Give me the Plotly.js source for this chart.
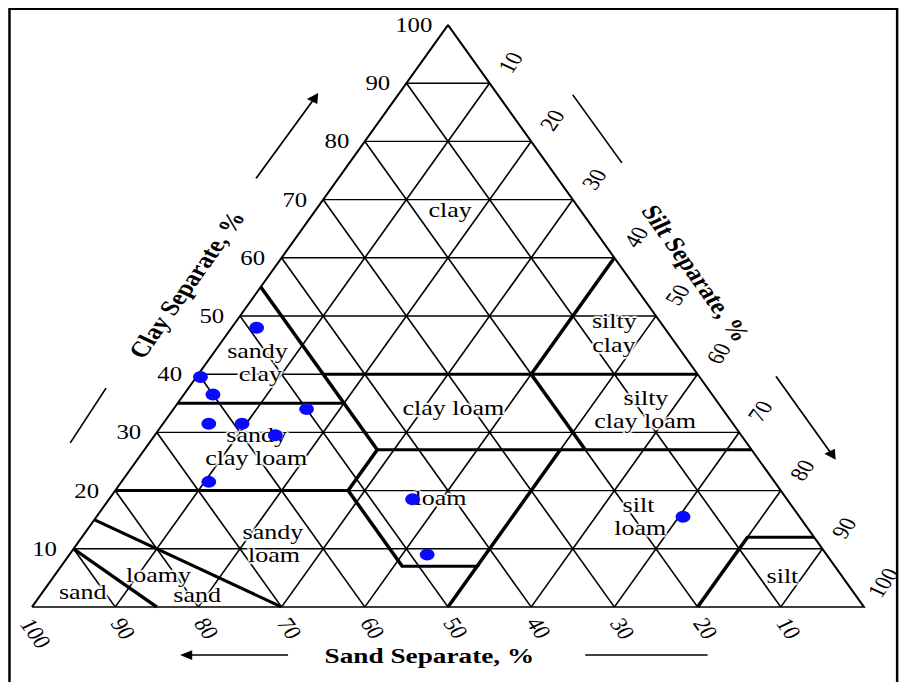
<!DOCTYPE html>
<html>
<head>
<meta charset="utf-8">
<script src="https://cdn.plot.ly/plotly-3.0.1.min.js"></script>
<style>
  html, body { margin: 0; padding: 0; background: #fff; overflow: hidden; }
  #wrap { width: 903px; height: 682px; overflow: hidden; }
  /* the triangle is laid out equilateral, then widened to the page width */
  #chart { width: 729px; height: 682px; transform: scaleX(1.238683); transform-origin: 0 0; }
</style>
</head>
<body>
<div id="wrap"><div id="chart"></div></div>
<script>
// ---- soil samples (percent by mass) ----
const sampleSand = [49, 60, 60, 50, 63, 59, 56, 68, 45, 48, 14];
const sampleSilt = [3, 0.5, 3.5, 16, 5.5, 9.5, 14.5, 10.5, 36.5, 43, 70.5];
const sampleClay = [48, 39.5, 36.5, 34, 31.5, 31.5, 29.5, 21.5, 18.5, 9, 15.5];

// ---- grid and tick values ----
const gridSteps = [10, 20, 30, 40, 50, 60, 70, 80, 90];
const clayTicks = [10, 20, 30, 40, 50, 60, 70, 80, 90, 100];
const sandTicks = [100, 90, 80, 70, 60, 50, 40, 30, 20, 10];
const siltTicks = [10, 20, 30, 40, 50, 60, 70, 80, 90, 100];

// ---- USDA texture class boundaries, as [sand, clay] vertices ----
const classBoundaries = [
  [[85, 0], [90, 10]],
  [[70, 0], [85, 15]],
  [[80, 20], [52, 20], [52, 7], [43, 7], [50, 0]],
  [[65, 35], [45, 35]],
  [[45, 55], [45, 27], [52, 20]],
  [[45, 40], [0, 40]],
  [[20, 40], [0, 60]],
  [[20, 40], [20, 27]],
  [[45, 27], [0, 27]],
  [[23, 27], [43, 7]],
  [[20, 0], [8, 12], [0, 12]]
];

// ---- class names and where they sit, as [silt, clay] ----
const classNames = ["clay", "silty", "clay", "silty", "clay loam", "sandy", "clay",
  "clay loam", "sandy", "clay loam", "loam", "silt", "loam", "sandy", "loam",
  "loamy", "sand", "sand", "silt"];
const classNameSilt = [16.3, 45.6, 47.6, 56.0, 57.9, 5.3, 7.6, 33.7, 12.4, 14.3,
  39.9, 64.3, 66.5, 22.7, 24.8, 12.6, 5.0, 19.0, 87.7];
const classNameClay = [67.9, 48.8, 44.7, 35.6, 31.6, 43.6, 39.7, 33.9, 29.2, 25.3,
  18.4, 17.2, 13.2, 12.5, 8.6, 5.2, 2.2, 1.7, 5.0];

// ternary -> plane: sand 100 at left, silt 100 at right, clay 100 on top
function toX(silt, clay) { return silt + clay / 2; }
function fromSandClay(sand, clay) { return [toX(100 - sand - clay, clay), clay]; }

const SERIF = "Liberation Serif, Times New Roman, serif";

// grid segments
const gx = [], gy = [];
function seg(a, b) { gx.push(a[0], b[0], null); gy.push(a[1], b[1], null); }
gridSteps.forEach(t => {
  seg(fromSandClay(100 - t, t), fromSandClay(0, t));      // constant clay
  seg(fromSandClay(t, 0), fromSandClay(t, 100 - t));      // constant sand
  seg(fromSandClay(100 - t, 0), fromSandClay(0, 100 - t)); // constant silt
});

// outline
const corners = [fromSandClay(100, 0), fromSandClay(0, 0), fromSandClay(0, 100), fromSandClay(100, 0)];

// class boundaries
const bx = [], by = [];
classBoundaries.forEach(line => {
  line.forEach(p => { const q = fromSandClay(p[0], p[1]); bx.push(q[0]); by.push(q[1]); });
  bx.push(null); by.push(null);
});

const halo = "0 0 2px #fff, 0 0 2px #fff, 0 0 3px #fff, 0 0 3px #fff, 0 0 4px #fff, 2px 0 1px #fff, -2px 0 1px #fff, 0 2px 1px #fff, 0 -2px 1px #fff";

const traces = [
  { type: "scatter", mode: "lines", x: gx, y: gy, line: { color: "#000", width: 1.4 }, hoverinfo: "skip" },
  { type: "scatter", mode: "lines", x: corners.map(c => c[0]), y: corners.map(c => c[1]),
    line: { color: "#000", width: 1.7 }, hoverinfo: "skip" },
  { type: "scatter", mode: "lines", x: bx, y: by, line: { color: "#000", width: 3 }, hoverinfo: "skip" },
  { type: "scatter", mode: "text",
    x: classNames.map((_, i) => toX(classNameSilt[i], classNameClay[i])),
    y: classNameClay, text: classNames, textposition: "middle center",
    textfont: { family: SERIF, size: 21, color: "#000", shadow: halo }, hoverinfo: "skip" },
  { type: "scatter", mode: "markers",
    x: sampleSilt.map((s, i) => toX(s, sampleClay[i])), y: sampleClay,
    marker: { color: "#0a0aff", size: 12 }, hoverinfo: "skip" }
];

const tickFont = { family: SERIF, size: 20, color: "#000" };
const annotations = [];
clayTicks.forEach(v => {
  annotations.push({ x: toX(0, v), y: v, text: String(v), showarrow: false, xanchor: "right",
    yanchor: "middle", xshift: -11, font: tickFont });
});
sandTicks.forEach(v => {
  const p = fromSandClay(v, 0);
  const big = v >= 100;
  annotations.push({ x: p[0], y: p[1], text: String(v), showarrow: false, textangle: 60,
    xanchor: "center", yanchor: "middle", xshift: big ? 3 : 6.5, yshift: big ? -26 : -21, font: tickFont });
});
siltTicks.forEach(v => {
  const big = v >= 100;
  annotations.push({ x: toX(v, 100 - v), y: 100 - v, text: String(v), showarrow: false, textangle: -60,
    xanchor: "center", yanchor: "middle", xshift: big ? 15 : 17, yshift: big ? 24 : 21, font: tickFont });
});

const titleFont = { family: SERIF, size: 22, color: "#000", weight: "bold" };
annotations.push(
  { x: 18.6, y: 55.4, text: "<b>Clay Separate, %</b>", showarrow: false, textangle: -60, font: titleFont },
  { x: 79.7, y: 57.4, text: "<b>Silt Separate, %</b>", showarrow: false, textangle: 60, font: titleFont },
  { x: 47.7, y: -8.4, text: "<b>Sand Separate, %</b>", showarrow: false, font: titleFont }
);

// direction arrows beside each side
const arrowStyle = { text: "", showarrow: true, arrowhead: 2, arrowsize: 1.3, arrowwidth: 1.5,
  arrowcolor: "#000", axref: "x", ayref: "y", standoff: 0 };
annotations.push(
  Object.assign({ x: 34.4, y: 88.3, ax: 26.8, ay: 73.4 }, arrowStyle),
  Object.assign({ x: 96.6, y: 25.3, ax: 89.3, ay: 39.9 }, arrowStyle),
  Object.assign({ x: 17.8, y: -8.25, ax: 31.0, ay: -8.25 }, arrowStyle)
);

const lineStyle = { color: "#000", width: 1.3 };
const shapes = [
  { type: "line", xref: "x", yref: "y", x0: 4.6, y0: 28.2, x1: 8.9, y1: 37.6, line: lineStyle },
  { type: "line", xref: "x", yref: "y", x0: 65.0, y0: 88.0, x1: 70.9, y1: 76.3, line: lineStyle },
  { type: "line", xref: "x", yref: "y", x0: 66.5, y0: -8.25, x1: 81.2, y1: -8.25, line: lineStyle },
  { type: "rect", xref: "paper", yref: "paper", x0: 0.0105, y0: -0.05, x1: 0.9935, y1: 0.9868,
    line: { color: "#000", width: 2 }, fillcolor: "rgba(0,0,0,0)" }
];

const layout = {
  width: 729, height: 682,
  margin: { l: 0, r: 0, t: 0, b: 0, pad: 0 },
  paper_bgcolor: "#fff", plot_bgcolor: "#fff",
  showlegend: false, hovermode: false,
  xaxis: { range: [-3.846, 104.69], visible: false, fixedrange: true },
  yaxis: { range: [-12.887, 104.296], visible: false, fixedrange: true },
  annotations: annotations,
  shapes: shapes
};

Plotly.newPlot("chart", traces, layout, { staticPlot: true, displayModeBar: false });
</script>
</body>
</html>
